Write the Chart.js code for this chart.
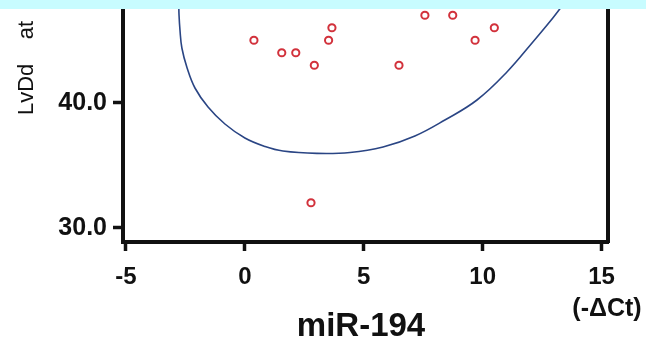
<!DOCTYPE html>
<html><head><meta charset="utf-8">
<script src="https://cdn.jsdelivr.net/npm/chart.js@4/dist/chart.umd.min.js"></script>
<style>
html,body{margin:0;padding:0;background:#fff;}
#wrap{position:relative;width:646px;height:351px;overflow:hidden;}
#band{position:absolute;left:0;top:0;width:646px;height:9px;background:#c8fcff;}
</style></head><body>
<div id="wrap"><canvas id="c" width="646" height="351"></canvas><div id="band"></div></div>
<script>
// Data points (miR-194 -ΔCt vs LvDd)
const pointX = [0.38, 1.55, 2.14, 2.92, 3.52, 3.66, 7.57, 8.74, 6.48, 9.68, 10.49, 2.78];
const pointY = [45, 44, 44, 43, 45, 46, 47, 47, 43, 45, 46, 32];
// Confidence ellipse outline
const ellipseX = [-2.78, -2.77, -2.73, -2.65, -2.43, -2.10, -1.55, -0.84, 0.00, 0.85, 1.60, 3.03, 4.42, 5.81, 7.15, 8.41, 9.76, 11.02, 12.11, 12.95, 13.37];
const ellipseY = [47.82, 47.02, 45.82, 44.38, 42.78, 41.18, 39.66, 38.30, 37.18, 36.50, 36.14, 35.95, 36.02, 36.46, 37.34, 38.62, 40.22, 42.46, 44.86, 46.78, 47.82];
const xTicks = [-5, 0, 5, 10, 15];
const yTicks = [30, 40];
const xTitle = 'miR-194';
const xUnit = '(-\u0394Ct)';
const yTitle = 'LvDd    at';

const FONT = "'Liberation Sans', Arial, Helvetica, sans-serif";

const textPlugin = {
  id: 'extraText',
  afterDraw(chart) {
    const ctx = chart.ctx;
    ctx.save();
    ctx.fillStyle = '#111';
    ctx.textAlign = 'center';
    ctx.textBaseline = 'middle';
    ctx.font = "bold 33px " + FONT;
    ctx.fillText(xTitle, 361, 327);
    ctx.font = "bold 25px " + FONT;
    ctx.fillText(xUnit, 607, 309);
    ctx.translate(33, 115);
    ctx.rotate(-Math.PI / 2);
    ctx.font = "22px " + FONT;
    ctx.textAlign = 'left';
    ctx.textBaseline = 'alphabetic';
    ctx.fillText(yTitle, 0, 0);
    ctx.restore();
  }
};

function noPad(s) { s.paddingTop = 0; s.paddingBottom = 0; s.paddingLeft = 0; s.paddingRight = 0; }

new Chart(document.getElementById('c'), {
  type: 'scatter',
  data: {
    datasets: [
      {
        label: 'ellipse',
        type: 'line',
        data: ellipseX.map((x, i) => ({x: x, y: ellipseY[i]})),
        borderColor: '#2a4584',
        borderWidth: 1.6,
        pointRadius: 0,
        tension: 0.4,
        fill: false
      },
      {
        label: 'samples',
        data: pointX.map((x, i) => ({x: x, y: pointY[i]})),
        pointRadius: 3.6,
        pointBorderWidth: 2,
        pointBorderColor: '#d2323c',
        pointBackgroundColor: 'rgba(255,255,255,0)'
      }
    ]
  },
  options: {
    responsive: false,
    animation: false,
    devicePixelRatio: 1,
    layout: {padding: 0, autoPadding: false},
    plugins: {legend: {display: false}, tooltip: {enabled: false}},
    scales: {
      x: {
        type: 'linear', position: 'bottom', min: -5.126, max: 15.27,
        afterBuildTicks: s => { s.ticks = xTicks.map(v => ({value: v})); },
        afterFit: s => { s.height = 109; noPad(s); },
        ticks: {color: '#111', font: {family: FONT, size: 24, weight: 'bold'}, padding: 12, maxRotation: 0, autoSkip: false},
        grid: {drawOnChartArea: false, drawTicks: true, tickLength: 9, tickWidth: 3.5, tickColor: '#111'},
        border: {display: true, width: 4, color: '#111'},
        title: {display: false, text: xTitle}
      },
      y: {
        type: 'linear', position: 'left', min: 28.86, max: 48.22,
        afterBuildTicks: s => { s.ticks = yTicks.map(v => ({value: v})); },
        afterFit: s => { s.width = 123; noPad(s); },
        ticks: {color: '#111', font: {family: FONT, size: 25, weight: 'bold'}, padding: 6, callback: v => Number(v).toFixed(1)},
        grid: {drawOnChartArea: false, drawTicks: true, tickLength: 10, tickWidth: 3.5, tickColor: '#111'},
        border: {display: true, width: 4, color: '#111'}
      },
      y2: {
        type: 'linear', position: 'right', min: 28.86, max: 48.22,
        afterFit: s => { s.width = 38; noPad(s); },
        ticks: {display: false},
        grid: {display: false, drawTicks: false},
        border: {display: true, width: 4, color: '#111'}
      }
    }
  },
  plugins: [textPlugin]
});
</script>
</body></html>
